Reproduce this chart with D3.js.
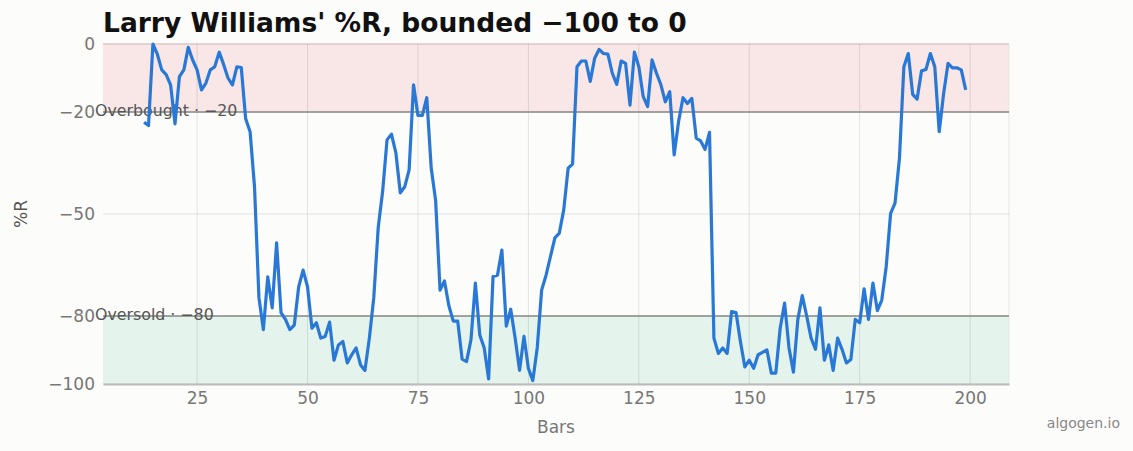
<!DOCTYPE html>
<html><head><meta charset="utf-8">
<script src="https://cdn.jsdelivr.net/npm/d3@7"></script>
<style>body{margin:0;background:#fcfcfa;font-family:"DejaVu Sans",sans-serif;}</style>
</head><body><svg id="c" width="1133" height="451"></svg>
<script>
const startBar = 13;
const values = [-23,-24,0,-3,-7.6,-9,-12,-23.5,-9.6,-7.6,-1,-4.7,-7.6,-13.5,-11.5,-7.6,-6.7,-2.4,-6,-10,-12,-6.7,-6.9,-22,-25.8,-42,-74.6,-84,-68.5,-77.6,-58.5,-79,-81,-84,-82.7,-71.4,-66.5,-71.4,-83.6,-82,-86.5,-86,-81.8,-93,-88.5,-87.5,-93.8,-91.4,-89.4,-94.4,-96,-86.5,-74.6,-54,-43.4,-28.2,-26.5,-32,-43.8,-42,-37,-12,-21,-21,-15.8,-36.5,-46,-72.4,-69.7,-77,-81.5,-81.5,-92.7,-93.4,-87,-70.3,-85.6,-89.4,-98.5,-68.4,-68,-60.6,-83,-78,-86.5,-96,-86,-95.4,-99,-89.4,-72.4,-68,-62.5,-57,-55.6,-48.8,-36.5,-35.3,-6.7,-5,-5,-11,-4.2,-1.6,-2.8,-3,-8.6,-11.9,-5,-5.7,-18,-2.4,-6.7,-15.5,-18.4,-4.7,-8.6,-12,-17,-14,-32.6,-22.8,-15.8,-17.5,-16,-27.7,-28.5,-31,-26,-86.5,-91,-89.4,-91,-78.7,-79,-87.5,-95,-93,-95.4,-91.4,-90.7,-90,-96.8,-96.8,-83.6,-76.2,-89.4,-96.5,-81,-74,-80,-86.5,-89.8,-77.6,-93,-88.5,-96,-86.5,-89.8,-93.8,-92.8,-81,-82,-72,-81,-70.3,-78.4,-75.3,-65.5,-49.8,-46.8,-33.6,-6.7,-2.8,-14.8,-16.2,-7.9,-7.5,-2.8,-6.7,-25.8,-14.6,-5.7,-7,-7,-7.6,-13.5];
const xTicks = [25,50,75,100,125,150,175,200];
const yTicks = [0,-20,-50,-80,-100];
const thresholds = [{v:-20,label:"Overbought · −20"},{v:-80,label:"Oversold · −80"}];

const svg = d3.select("#c");
const L=103,R=1009,T=44,B=384;
const x = d3.scaleLinear().domain([3.7,208.8]).range([L,R]);
const y = d3.scaleLinear().domain([-100,0]).range([B,T]);
const data = values.map((v,i)=>({x:startBar+i,v}));

svg.append("rect").attr("x",L).attr("width",R-L).attr("y",y(0)).attr("height",y(-20)-y(0)).attr("fill","#f9e6e6");
svg.append("rect").attr("x",L).attr("width",R-L).attr("y",y(-80)).attr("height",y(-100)-y(-80)).attr("fill","#e4f3ec");
svg.append("line").attr("x1",L).attr("x2",R).attr("y1",T).attr("y2",T).attr("stroke","#e8c8c8");
svg.append("line").attr("x1",R).attr("x2",R).attr("y1",T).attr("y2",B).attr("stroke","#e6e6e6");

const g = svg.append("g");
xTicks.forEach(t=>g.append("line").attr("x1",x(t)).attr("x2",x(t)).attr("y1",T).attr("y2",B).attr("stroke","#000").attr("stroke-opacity",0.1));
yTicks.forEach(t=>g.append("line").attr("x1",L).attr("x2",R).attr("y1",y(t)).attr("y2",y(t)).attr("stroke","#000").attr("stroke-opacity",0.1));

thresholds.forEach(t=>{
  svg.append("line").attr("x1",L).attr("x2",R).attr("y1",y(t.v)).attr("y2",y(t.v)).attr("stroke","#8a8a86").attr("stroke-width",1.5);
  svg.append("text").attr("x",95).attr("y",y(t.v)+4).attr("font-size",15.8).attr("fill","#555").text(t.label);
});

svg.append("path").datum(data).attr("fill","none").attr("stroke","#2a78d6").attr("stroke-width",3.2).attr("stroke-linejoin","round")
  .attr("d",d3.line().x(d=>x(d.x)).y(d=>y(d.v)));

const xa = svg.append("g").attr("transform",`translate(0,${B})`).call(d3.axisBottom(x).tickValues(xTicks).tickSize(0).tickPadding(8));
xa.select(".domain").attr("stroke","#bbb").attr("stroke-width",2);
xa.selectAll("text").attr("font-size",17).attr("fill","#777").attr("font-family","DejaVu Sans");
const ya = svg.append("g").attr("transform",`translate(${L},0)`).call(d3.axisLeft(y).tickValues(yTicks).tickSize(0).tickPadding(8).tickFormat(d=>d===0?"0":"−"+Math.abs(d)));
ya.select(".domain").remove();
ya.selectAll("text").attr("font-size",17).attr("fill","#777").attr("font-family","DejaVu Sans");

svg.append("text").attr("x",103).attr("y",32).attr("font-size",26.5).attr("font-weight","bold").attr("fill","#111").text("Larry Williams' %R, bounded −100 to 0");
svg.append("text").attr("x",556).attr("y",433).attr("text-anchor","middle").attr("font-size",17).attr("fill","#777").text("Bars");
svg.append("text").attr("transform","translate(27,214) rotate(-90)").attr("text-anchor","middle").attr("font-size",17).attr("fill","#555").text("%R");
svg.append("text").attr("x",1120).attr("y",428).attr("text-anchor","end").attr("font-size",14).attr("fill","#888").text("algogen.io");
</script></body></html>
